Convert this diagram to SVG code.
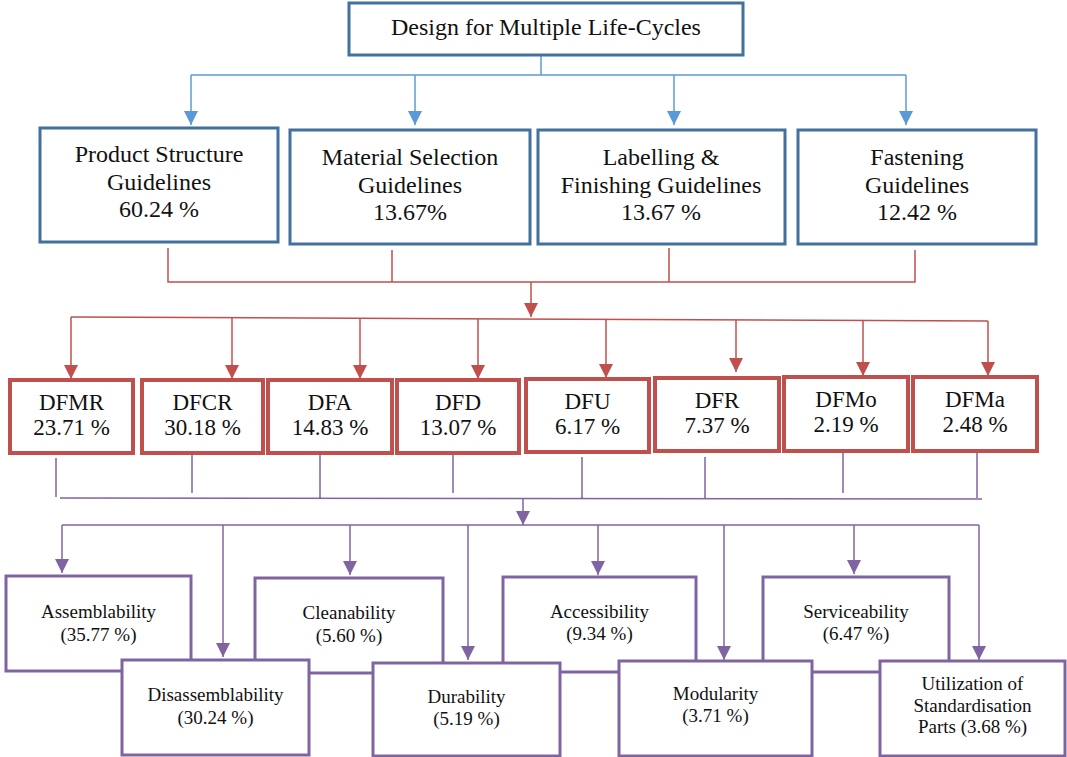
<svg xmlns="http://www.w3.org/2000/svg" width="1067" height="757" viewBox="0 0 1067 757">
<style>
text{font-family:'Liberation Serif','Times New Roman','DejaVu Serif',serif;fill:#111;text-anchor:middle}
.t1{font-size:24px}
.t2{font-size:24px}
.t3{font-size:23px}
.t4{font-size:19px}
.bb{fill:#fff;stroke:#41719C;stroke-width:3}
.rb{fill:#fff;stroke:#C0504D;stroke-width:4}
.pb{fill:#fff;stroke:#8064A2;stroke-width:3}
.cb{fill:none;stroke:#5B9BD5;stroke-width:1.5}
.cr{fill:none;stroke:#C0504D;stroke-width:1.5}
.cp{fill:none;stroke:#8064A2;stroke-width:1.5}
</style>
<defs>
<marker id="ab" viewBox="0 0 14 14" refX="14" refY="7" markerWidth="14" markerHeight="14" markerUnits="userSpaceOnUse" orient="auto"><path d="M0,0 L14,7 L0,14 z" fill="#5B9BD5"/></marker>
<marker id="ar" viewBox="0 0 14 14" refX="14" refY="7" markerWidth="14" markerHeight="14" markerUnits="userSpaceOnUse" orient="auto"><path d="M0,0 L14,7 L0,14 z" fill="#C0504D"/></marker>
<marker id="ap" viewBox="0 0 14 14" refX="14" refY="7" markerWidth="14" markerHeight="14" markerUnits="userSpaceOnUse" orient="auto"><path d="M0,0 L14,7 L0,14 z" fill="#8064A2"/></marker>
</defs>
<rect width="1067" height="757" fill="#fff"/>
<g id="connectors">
<path class="cb" d="M541,55 V75 M191,75 H906"/>
<path class="cb" d="M191,75 V125" marker-end="url(#ab)"/>
<path class="cb" d="M415,75 V125" marker-end="url(#ab)"/>
<path class="cb" d="M674,75 V125" marker-end="url(#ab)"/>
<path class="cb" d="M906,75 V125" marker-end="url(#ab)"/>
<path class="cr" d="M168,248 V282 H915 V250 M392,250 V282 M669,248 V282 M71,317 L988,321"/>
<path class="cr" d="M531,282 V317" marker-end="url(#ar)"/>
<path class="cr" d="M71,317 V379" marker-end="url(#ar)"/>
<path class="cr" d="M232,318 V379" marker-end="url(#ar)"/>
<path class="cr" d="M360,318 V379" marker-end="url(#ar)"/>
<path class="cr" d="M478,319 V379" marker-end="url(#ar)"/>
<path class="cr" d="M606,319 V378" marker-end="url(#ar)"/>
<path class="cr" d="M736,320 V372" marker-end="url(#ar)"/>
<path class="cr" d="M863,320 V376" marker-end="url(#ar)"/>
<path class="cr" d="M988,321 V376" marker-end="url(#ar)"/>
<path class="cp" d="M56,458 V497 M192,453 V493 M320,453 V498 M453,453 V493 M582,457 V498 M705,457 V498 M843,451 V493 M977,453 V498 M60,498 L982,499 M62,525 H979"/>
<path class="cp" d="M523,498 V525" marker-end="url(#ap)"/>
<path class="cp" d="M62,525 V573" marker-end="url(#ap)"/>
<path class="cp" d="M223,525 V657" marker-end="url(#ap)"/>
<path class="cp" d="M350,525 V575" marker-end="url(#ap)"/>
<path class="cp" d="M468,525 V660" marker-end="url(#ap)"/>
<path class="cp" d="M598,525 V575" marker-end="url(#ap)"/>
<path class="cp" d="M724,525 V660" marker-end="url(#ap)"/>
<path class="cp" d="M854,525 V574" marker-end="url(#ap)"/>
<path class="cp" d="M979,525 V660" marker-end="url(#ap)"/>
</g>
<g id="root"><rect class="bb" x="349" y="3" width="394" height="52"/><text class="t1" x="546" y="35">Design for Multiple Life-Cycles</text></g>
<g id="product"><rect class="bb" x="40" y="128" width="238" height="114"/><text class="t2" x="159" y="162">Product Structure</text><text class="t2" x="159" y="190">Guidelines</text><text class="t2" x="159" y="217">60.24 %</text></g>
<g id="material"><rect class="bb" x="290" y="130" width="240" height="114"/><text class="t2" x="410" y="165">Material Selection</text><text class="t2" x="410" y="193">Guidelines</text><text class="t2" x="410" y="220">13.67%</text></g>
<g id="labelling"><rect class="bb" x="538" y="130" width="247" height="114"/><text class="t2" x="661" y="165">Labelling &amp;</text><text class="t2" x="661" y="193">Finishing Guidelines</text><text class="t2" x="661" y="220">13.67 %</text></g>
<g id="fastening"><rect class="bb" x="798" y="130" width="238" height="114"/><text class="t2" x="917" y="165">Fastening</text><text class="t2" x="917" y="193">Guidelines</text><text class="t2" x="917" y="220">12.42 %</text></g>
<g id="dfmr"><rect class="rb" x="10" y="380" width="123" height="73"/><text class="t3" x="71.5" y="410">DFMR</text><text class="t3" x="71.5" y="435">23.71 %</text></g>
<g id="dfcr"><rect class="rb" x="142" y="380" width="121" height="73"/><text class="t3" x="202.5" y="410">DFCR</text><text class="t3" x="202.5" y="435">30.18 %</text></g>
<g id="dfa"><rect class="rb" x="268" y="380" width="124" height="73"/><text class="t3" x="330" y="410">DFA</text><text class="t3" x="330" y="435">14.83 %</text></g>
<g id="dfd"><rect class="rb" x="397" y="380" width="122" height="73"/><text class="t3" x="458" y="410">DFD</text><text class="t3" x="458" y="435">13.07 %</text></g>
<g id="dfu"><rect class="rb" x="526" y="379" width="123" height="73"/><text class="t3" x="587.5" y="409">DFU</text><text class="t3" x="587.5" y="434">6.17 %</text></g>
<g id="dfr"><rect class="rb" x="655" y="378" width="124" height="73"/><text class="t3" x="717" y="408">DFR</text><text class="t3" x="717" y="433">7.37 %</text></g>
<g id="dfmo"><rect class="rb" x="784" y="377" width="124" height="74"/><text class="t3" x="846" y="407">DFMo</text><text class="t3" x="846" y="432">2.19 %</text></g>
<g id="dfma"><rect class="rb" x="913" y="377" width="124" height="74"/><text class="t3" x="975" y="407">DFMa</text><text class="t3" x="975" y="432">2.48 %</text></g>
<g id="assemblability"><rect class="pb" x="6" y="576" width="185" height="95"/><text class="t4" x="98.5" y="618">Assemblability</text><text class="t4" x="98.5" y="641">(35.77 %)</text></g>
<g id="cleanability"><rect class="pb" x="255" y="578" width="188" height="95"/><text class="t4" x="349" y="619">Cleanability</text><text class="t4" x="349" y="642">(5.60 %)</text></g>
<g id="accessibility"><rect class="pb" x="503" y="577" width="193" height="95"/><text class="t4" x="599.5" y="618">Accessibility</text><text class="t4" x="599.5" y="640">(9.34 %)</text></g>
<g id="serviceability"><rect class="pb" x="763" y="577" width="186" height="95"/><text class="t4" x="856" y="618">Serviceability</text><text class="t4" x="856" y="640">(6.47 %)</text></g>
<g id="disassemblability"><rect class="pb" x="122" y="660" width="187" height="95"/><text class="t4" x="215.5" y="701">Disassemblability</text><text class="t4" x="215.5" y="724">(30.24 %)</text></g>
<g id="durability"><rect class="pb" x="373" y="663" width="187" height="93"/><text class="t4" x="466.5" y="703">Durability</text><text class="t4" x="466.5" y="725">(5.19 %)</text></g>
<g id="modularity"><rect class="pb" x="619" y="661" width="193" height="95"/><text class="t4" x="715.5" y="700">Modularity</text><text class="t4" x="715.5" y="722">(3.71 %)</text></g>
<g id="utilization"><rect class="pb" x="880" y="661" width="185" height="95"/><text class="t4" x="972.5" y="690">Utilization of</text><text class="t4" x="972.5" y="712">Standardisation</text><text class="t4" x="972.5" y="733">Parts (3.68 %)</text></g>
</svg>
